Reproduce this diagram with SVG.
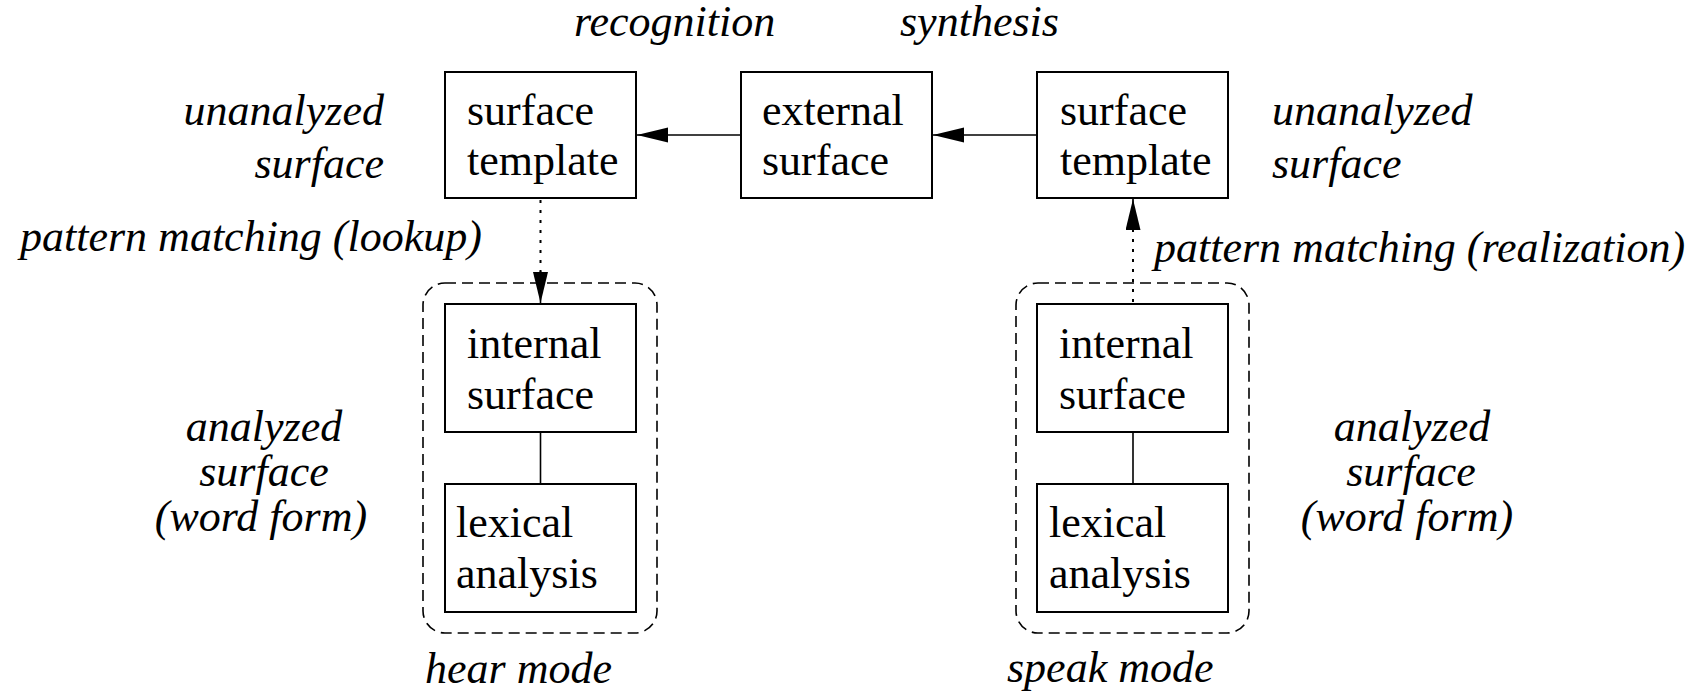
<svg xmlns="http://www.w3.org/2000/svg" width="1706" height="694" viewBox="0 0 1706 694">
<style>
.box{fill:#fff;stroke:#000;stroke-width:2}
.grp{fill:none;stroke:#000;stroke-width:1.6;stroke-dasharray:11 6}
.t{font-family:"Liberation Serif","Times New Roman",serif;font-size:44px;fill:#000}
.i{font-family:"Liberation Serif","Times New Roman",serif;font-size:44px;font-style:italic;fill:#000}
.m{text-anchor:middle}
.e{text-anchor:end}
.ln{stroke:#000;stroke-width:1.6;fill:none}
.dot{stroke:#000;stroke-width:2;fill:none;stroke-dasharray:3 7}
</style>
<defs>
<marker id="ah" markerUnits="userSpaceOnUse" markerWidth="32" markerHeight="16" refX="31" refY="7.5" orient="auto">
<path d="M0,0 L31,7.5 L0,15 z" fill="#000"/>
</marker>
</defs>
<g id="labels">
<text class="i" x="574" y="36">recognition</text>
<text class="i" x="900" y="36">synthesis</text>
<text class="i e" x="384" y="125">unanalyzed</text>
<text class="i e" x="384" y="178">surface</text>
<text class="i" x="1272" y="125">unanalyzed</text>
<text class="i" x="1272" y="178">surface</text>
<text class="i" x="20" y="251">pattern matching (lookup)</text>
<text class="i" x="1154" y="262">pattern matching (realization)</text>
<text class="i m" x="264" y="441">analyzed</text>
<text class="i m" x="264" y="486">surface</text>
<text class="i m" x="261" y="531">(word form)</text>
<text class="i m" x="1412" y="441">analyzed</text>
<text class="i m" x="1411" y="486">surface</text>
<text class="i m" x="1407" y="531">(word form)</text>
</g>
<g id="hear-mode">
<rect class="grp" x="423" y="283" width="234" height="350" rx="22"/>
<text class="i" x="425" y="683">hear mode</text>
</g>
<g id="speak-mode">
<rect class="grp" x="1016" y="283" width="233" height="350" rx="22"/>
<text class="i" x="1007" y="682">speak mode</text>
</g>
<g id="connectors">
<line class="ln" x1="741" y1="135" x2="637" y2="135" marker-end="url(#ah)"/>
<line class="ln" x1="1037" y1="135" x2="933" y2="135" marker-end="url(#ah)"/>
<line class="dot" x1="540.5" y1="200" x2="540.5" y2="272"/>
<line class="ln" x1="540.5" y1="271" x2="540.5" y2="303" marker-end="url(#ah)" stroke-width="0"/>
<line class="dot" x1="1133" y1="302" x2="1133" y2="230"/>
<line class="ln" x1="1133" y1="231" x2="1133" y2="199" marker-end="url(#ah)" stroke-width="0"/>
<line class="ln" x1="540.5" y1="432" x2="540.5" y2="484"/>
<line class="ln" x1="1133" y1="432" x2="1133" y2="484"/>
</g>
<g id="surface-template-left">
<rect class="box" x="445" y="72" width="191" height="126"/>
<text class="t" x="467" y="125">surface</text>
<text class="t" x="467" y="175">template</text>
</g>
<g id="external-surface">
<rect class="box" x="741" y="72" width="191" height="126"/>
<text class="t" x="762" y="125">external</text>
<text class="t" x="762" y="175">surface</text>
</g>
<g id="surface-template-right">
<rect class="box" x="1037" y="72" width="191" height="126"/>
<text class="t" x="1060" y="125">surface</text>
<text class="t" x="1060" y="175">template</text>
</g>
<g id="internal-surface-left">
<rect class="box" x="445" y="304" width="191" height="128"/>
<text class="t" x="467" y="358">internal</text>
<text class="t" x="467" y="409">surface</text>
</g>
<g id="lexical-analysis-left">
<rect class="box" x="445" y="484" width="191" height="128"/>
<text class="t" x="456" y="537">lexical</text>
<text class="t" x="456" y="588">analysis</text>
</g>
<g id="internal-surface-right">
<rect class="box" x="1037" y="304" width="191" height="128"/>
<text class="t" x="1059" y="358">internal</text>
<text class="t" x="1059" y="409">surface</text>
</g>
<g id="lexical-analysis-right">
<rect class="box" x="1037" y="484" width="191" height="128"/>
<text class="t" x="1049" y="537">lexical</text>
<text class="t" x="1049" y="588">analysis</text>
</g>
</svg>
